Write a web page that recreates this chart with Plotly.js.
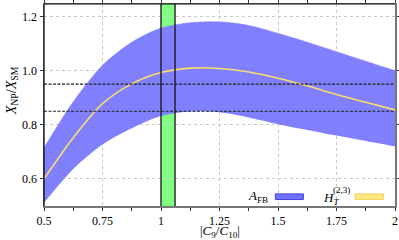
<!DOCTYPE html>
<html>
<head>
<meta charset="utf-8">
<script src="https://cdn.plot.ly/plotly-3.0.1.min.js"></script>
<style>html,body{margin:0;padding:0;background:#fff;}#chart{width:399px;height:240px;}</style>
</head>
<body>
<div id="chart"></div>
<script>
// |C9/C10| grid
var xVals = [0.5, 0.625, 0.75, 0.875, 1.0, 1.125, 1.25, 1.375, 1.5, 1.625, 1.75, 1.875, 2.0];
// A_FB band (upper / lower)
var afbUpper = [0.715, 0.885, 1.02, 1.105, 1.157, 1.177, 1.18, 1.167, 1.138, 1.105, 1.07, 1.035, 1.0];
var afbLower = [0.512, 0.637, 0.727, 0.787, 0.832, 0.849, 0.846, 0.827, 0.802, 0.781, 0.76, 0.74, 0.72];
// H_T^(2,3) curve
var htVals = [0.6, 0.752, 0.878, 0.951, 0.993, 1.009, 1.008, 0.995, 0.972, 0.944, 0.912, 0.883, 0.855];
// green band
var greenBand = [1.0, 1.06];
// dashed horizontal reference levels
var refLevels = [0.85, 0.95];
var xTicks = [0.5, 0.75, 1, 1.25, 1.5, 1.75, 2];
var xTickText = ['0.5', '0.75', '1', '1.25', '1.5', '1.75', '2'];
var yTicks = [0.6, 0.8, 1.0, 1.2];
var yTickText = ['0.6', '0.8', '1.0', '1.2'];

var FONT = "'Liberation Serif', 'DejaVu Serif', serif";

var traces = [
  {x: xVals, y: afbLower, mode: 'lines', line: {color: 'rgba(0,0,0,0)', width: 0, shape: 'spline', smoothing: 0.8}, showlegend: false, hoverinfo: 'skip'},
  {x: xVals, y: afbUpper, mode: 'lines', fill: 'tonexty', fillcolor: '#8080ff', line: {color: '#8080ff', width: 0.5, shape: 'spline', smoothing: 0.8}, showlegend: false},
  {x: xVals, y: htVals, mode: 'lines', line: {color: '#f7dc6f', width: 1.6, shape: 'spline', smoothing: 0.8}, showlegend: false}
];

var shapes = [
  {type: 'rect', xref: 'x', yref: 'paper', x0: greenBand[0], x1: greenBand[1], y0: 0, y1: 1, fillcolor: '#80ff80', line: {width: 0}, layer: 'between'},
  {type: 'line', xref: 'x', yref: 'paper', x0: greenBand[0], x1: greenBand[0], y0: 0, y1: 1, line: {color: '#111', width: 1.3}, layer: 'above'},
  {type: 'line', xref: 'x', yref: 'paper', x0: greenBand[1], x1: greenBand[1], y0: 0, y1: 1, line: {color: '#111', width: 1.3}, layer: 'above'}
];
refLevels.forEach(function (v) {
  shapes.push({type: 'line', xref: 'paper', yref: 'y', x0: 0, x1: 1, y0: v, y1: v, line: {color: '#222', width: 1.2, dash: '3px,1.5px'}, layer: 'above'});
});
// frame: top & left black
shapes.push({type: 'line', xref: 'paper', yref: 'paper', x0: 0, x1: 1, y0: 1, y1: 1, line: {color: '#000', width: 1.2}, layer: 'above'});
shapes.push({type: 'line', xref: 'paper', yref: 'paper', x0: 0, x1: 0, y0: 0, y1: 1, line: {color: '#000', width: 1.2}, layer: 'above'});
// legend swatches
shapes.push({type: 'rect', xref: 'paper', yref: 'paper', x0: 0.659, x1: 0.739, y0: 0.032, y1: 0.060, fillcolor: '#7070ff', line: {color: '#4444dd', width: 1}, layer: 'above'});
shapes.push({type: 'rect', xref: 'paper', yref: 'paper', x0: 0.886, x1: 0.967, y0: 0.032, y1: 0.060, fillcolor: '#ffe680', line: {color: '#f0d060', width: 1}, layer: 'above'});

var annotations = [
  {xref: 'paper', yref: 'paper', x: 0.645, y: 0.046, xanchor: 'right', yanchor: 'middle', showarrow: false,
   text: '<i>A</i><sub>FB</sub>', font: {family: FONT, size: 13, color: '#000'}},
  {xref: 'paper', yref: 'paper', x: 0.788, y: 0.038, xanchor: 'left', yanchor: 'middle', showarrow: false,
   text: '<i>H</i><sub><i>T</i></sub>', font: {family: FONT, size: 13, color: '#000'}},
  {xref: 'paper', yref: 'paper', x: 0.818, y: 0.080, xanchor: 'left', yanchor: 'middle', showarrow: false,
   text: '(2,3)', font: {family: FONT, size: 9, color: '#000'}},
  {xref: 'paper', yref: 'paper', x: -0.09, y: 0.57, xanchor: 'center', yanchor: 'middle', showarrow: false, textangle: -90,
   text: '<i>X</i><sub>NP</sub>/<i>X</i><sub>SM</sub>', font: {family: FONT, size: 14, color: '#000'}},
  {xref: 'paper', yref: 'paper', x: 0.5, y: -0.128, xanchor: 'center', yanchor: 'middle', showarrow: false,
   text: '|<i>C</i><sub>9</sub>/<i>C</i><sub>10</sub>|', font: {family: FONT, size: 13, color: '#000'}}
];

var layout = {
  width: 399, height: 240,
  margin: {l: 43.5, r: 4, t: 4, b: 33.5, pad: 0},
  paper_bgcolor: '#fff', plot_bgcolor: '#fff',
  showlegend: false,
  font: {family: FONT, size: 12, color: '#000'},
  xaxis: {
    range: [0.5, 2], tickvals: xTicks, ticktext: xTickText,
    showgrid: true, gridcolor: '#c8c8c8', griddash: 'dot', gridwidth: 1,
    zeroline: false, showline: true, linecolor: '#777', linewidth: 1.5, mirror: 'ticks',
    ticks: 'outside', ticklen: 3, tickcolor: '#333', tickwidth: 1,
    minor: {dtick: 0.125, tick0: 0.5, ticks: 'outside', ticklen: 3, tickcolor: '#333', showgrid: false},
    tickfont: {family: FONT, size: 12}
  },
  yaxis: {
    range: [0.5, 1.246], tickvals: yTicks, ticktext: yTickText,
    showgrid: true, gridcolor: '#c8c8c8', griddash: 'dot', gridwidth: 1,
    zeroline: false, showline: true, linecolor: '#777', linewidth: 1.5, mirror: 'ticks',
    ticks: 'outside', ticklen: 3, tickcolor: '#333', tickwidth: 1,
    tickfont: {family: FONT, size: 12}
  },
  shapes: shapes,
  annotations: annotations
};

Plotly.newPlot('chart', traces, layout, {staticPlot: true, displayModeBar: false});
</script>
</body>
</html>
